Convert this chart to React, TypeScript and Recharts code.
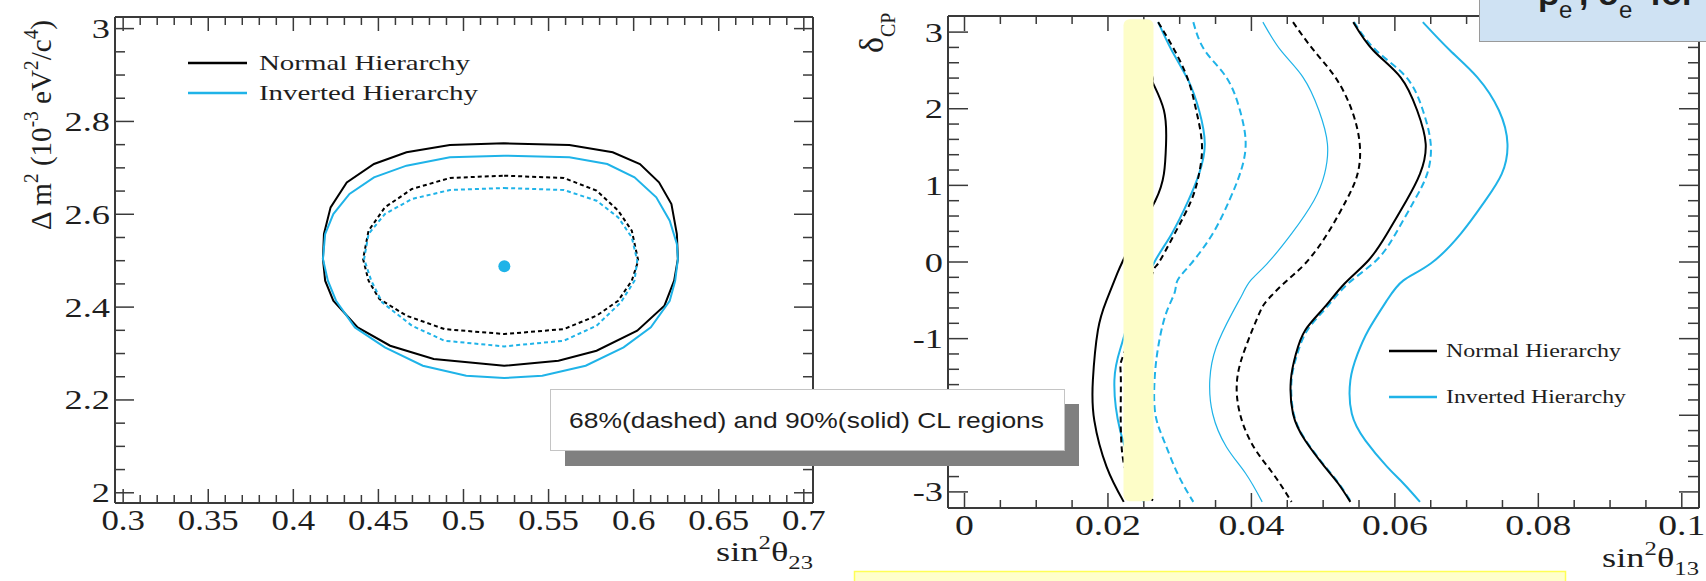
import React from 'react';
import { ComposedChart, Line, Scatter, XAxis, YAxis } from 'recharts';

const BLUE = '#1fb3e8';
const INK = '#1e1e1e';
const FRAME = '#3a3a3a';
const SERIF = '"Liberation Serif", "Times New Roman", serif';
const SANS = '"Liberation Sans", Arial, sans-serif';

// left panel: sin^2(theta23) vs dm^2, closed contours [x, y]
const nh90_23 = [
  [0.5239, 2.7529], [0.5622, 2.7493], [0.5877, 2.7335], [0.6037, 2.7083], [0.6149, 2.6688],
  [0.6222, 2.6221], [0.6254, 2.5575], [0.626, 2.5036], [0.6238, 2.4569], [0.6181, 2.403],
  [0.6021, 2.3491], [0.5782, 2.306], [0.5558, 2.2845], [0.5239, 2.2737], [0.4825, 2.2881],
  [0.4569, 2.3168], [0.4378, 2.3563], [0.4235, 2.4138], [0.4187, 2.4569], [0.4174, 2.5036],
  [0.418, 2.5575], [0.4219, 2.6149], [0.4314, 2.6688], [0.4474, 2.7083], [0.4665, 2.7335],
  [0.492, 2.7493], [0.5239, 2.7529],
];
const ih90_23 = [
  [0.5239, 2.7263], [0.5622, 2.7227], [0.5845, 2.7083], [0.6005, 2.6796], [0.6133, 2.6365],
  [0.6212, 2.5862], [0.6254, 2.5359], [0.626, 2.5036], [0.6244, 2.4569], [0.6212, 2.4138],
  [0.6101, 2.3563], [0.5941, 2.3132], [0.5718, 2.2737], [0.5463, 2.2522], [0.5239, 2.2471],
  [0.5016, 2.2522], [0.4761, 2.2737], [0.4538, 2.3132], [0.4362, 2.3563], [0.4251, 2.4138],
  [0.4203, 2.4569], [0.4174, 2.5036], [0.4187, 2.5575], [0.4235, 2.6006], [0.433, 2.6437],
  [0.4474, 2.6796], [0.4665, 2.7047], [0.492, 2.7227], [0.5239, 2.7263],
];
const nh68_23 = [
  [0.5239, 2.6832], [0.559, 2.6782], [0.5782, 2.6509], [0.5909, 2.6078], [0.5989, 2.5647],
  [0.6027, 2.5], [0.5989, 2.4569], [0.5909, 2.4138], [0.5782, 2.3815], [0.559, 2.3527],
  [0.5239, 2.342], [0.4888, 2.3527], [0.4665, 2.3815], [0.4506, 2.4174], [0.4442, 2.4569],
  [0.441, 2.5036], [0.4442, 2.5647], [0.4538, 2.6149], [0.4697, 2.6545], [0.492, 2.6782],
  [0.5239, 2.6832],
];
const ih68_23 = [
  [0.5239, 2.6566], [0.559, 2.6523], [0.5782, 2.6293], [0.5909, 2.5934], [0.5989, 2.5503],
  [0.6021, 2.5], [0.6005, 2.4569], [0.5925, 2.4102], [0.5782, 2.3599], [0.559, 2.3276],
  [0.5239, 2.3154], [0.4888, 2.3276], [0.4697, 2.3599], [0.4522, 2.4102], [0.4458, 2.4569],
  [0.4416, 2.5036], [0.4442, 2.5575], [0.4538, 2.6006], [0.4697, 2.6329], [0.492, 2.6523],
  [0.5239, 2.6566],
];
const bestFit23 = [[0.524, 2.488]];

// right panel: sin^2(theta13) vs delta_CP, open curves [x, delta]
const nh90Left13 = [
  [0.024, 3.13], [0.025, 2.76], [0.0262, 2.41], [0.0263, 2.33], [0.0278, 1.98], [0.0281, 1.54],
  [0.0278, 1.15], [0.0266, 0.8], [0.024, 0.37], [0.0221, 0.02], [0.0213, -0.15], [0.0198, -0.5],
  [0.0186, -0.89], [0.0179, -1.54], [0.0181, -2.07], [0.0198, -2.67], [0.0222, -3.13],
];
const ih90Left13 = [
  [0.027, 3.13], [0.0289, 2.76], [0.0312, 2.37], [0.0327, 1.98], [0.0335, 1.54], [0.0327, 1.15],
  [0.0312, 0.8], [0.0289, 0.37], [0.0266, 0.02], [0.0245, -0.4], [0.0228, -0.8], [0.0218, -1.11],
  [0.0209, -1.54], [0.0217, -2.2], [0.0235, -2.7], [0.025, -3.13],
];
const nh68Left13 = [
  [0.027, 3.13], [0.0293, 2.76], [0.0312, 2.37], [0.0323, 1.98], [0.0331, 1.54], [0.0327, 1.15],
  [0.0316, 0.8], [0.0293, 0.37], [0.027, -0.02], [0.0262, -0.15], [0.0238, -0.8], [0.0219, -1.28],
  [0.0218, -1.54], [0.0219, -2.41], [0.0235, -2.9], [0.0266, -3.13],
];
const ih68Left13 = [
  [0.0319, 3.13], [0.0335, 2.76], [0.0365, 2.41], [0.0384, 1.98], [0.0392, 1.54], [0.0384, 1.15],
  [0.0369, 0.8], [0.0346, 0.37], [0.0316, -0.02], [0.0297, -0.24], [0.0293, -0.4], [0.0281, -0.67],
  [0.027, -1.11], [0.0265, -1.54], [0.0266, -1.98], [0.0278, -2.33], [0.0297, -2.76], [0.0319, -3.13],
];
const ihFit13 = [
  [0.0416, 3.13], [0.0441, 2.76], [0.0472, 2.41], [0.0494, 1.98], [0.0506, 1.54], [0.0502, 1.15],
  [0.0487, 0.8], [0.0456, 0.37], [0.0422, -0.02], [0.0399, -0.24], [0.0388, -0.41], [0.0373, -0.67],
  [0.0351, -1.11], [0.0342, -1.54], [0.0346, -1.98], [0.0365, -2.41], [0.0392, -2.76], [0.0415, -3.13],
];
const nh68Right13 = [
  [0.0458, 3.13], [0.0487, 2.76], [0.0517, 2.41], [0.054, 1.98], [0.0551, 1.54], [0.0548, 1.15],
  [0.0532, 0.8], [0.0506, 0.37], [0.0475, -0.02], [0.0445, -0.28], [0.0422, -0.5], [0.0411, -0.67],
  [0.0392, -1.11], [0.038, -1.54], [0.0384, -1.98], [0.0403, -2.41], [0.043, -2.76], [0.0456, -3.13],
];
const nh90Right13 = [
  [0.0542, 3.13], [0.057, 2.76], [0.0608, 2.41], [0.0631, 1.98], [0.0643, 1.54], [0.0635, 1.15],
  [0.0616, 0.8], [0.0589, 0.37], [0.0563, 0.02], [0.053, -0.28], [0.0502, -0.59], [0.0475, -0.89],
  [0.0462, -1.2], [0.0455, -1.54], [0.0458, -1.98], [0.0475, -2.33], [0.0502, -2.67], [0.0521, -2.89],
  [0.0538, -3.13],
];
const ih68Right13 = [
  [0.0543, 3.13], [0.0574, 2.76], [0.0616, 2.41], [0.0639, 1.98], [0.065, 1.54], [0.0645, 1.15],
  [0.0627, 0.8], [0.0601, 0.37], [0.0574, 0.02], [0.0535, -0.28], [0.0505, -0.59], [0.0478, -0.89],
  [0.0464, -1.2], [0.0456, -1.54], [0.0459, -1.98], [0.0476, -2.33], [0.0503, -2.67], [0.0522, -2.89],
  [0.0539, -3.13],
];
const ih90Right13 = [
  [0.0639, 3.13], [0.0677, 2.76], [0.0715, 2.41], [0.0745, 1.98], [0.0757, 1.54], [0.0749, 1.15],
  [0.0726, 0.8], [0.0692, 0.37], [0.065, -0.02], [0.0612, -0.24], [0.0589, -0.5], [0.0563, -0.89],
  [0.0548, -1.2], [0.0538, -1.54], [0.054, -1.98], [0.0559, -2.33], [0.0589, -2.67], [0.0612, -2.89],
  [0.0635, -3.13],
];

// tick labels
const x23Labels = [0.3, 0.35, 0.4, 0.45, 0.5, 0.55, 0.6, 0.65, 0.7];
const dm2Labels = [2, 2.2, 2.4, 2.6, 2.8, 3];
const x13Labels = [0, 0.02, 0.04, 0.06, 0.08, 0.1];
const dcpLabels = [-3, -2, -1, 0, 1, 2, 3];

const steps = (from: number, to: number, step: number) => {
  const n = Math.round((to - from) / step);
  return Array.from({ length: n + 1 }, (_, i) => +(from + i * step).toFixed(4));
};
const x23Ticks = steps(0.3, 0.7, 0.01);
const dm2Ticks = steps(2, 3, 0.05);
const x13Ticks = steps(0, 0.1, 0.005);
const dcpTicks = steps(-3, 3, 0.2);

const pts = (a: number[][]) => a.map(([x, y]) => ({ x, y }));

type TickOpts = {
  side: 'bottom' | 'top' | 'left' | 'right';
  majors: number[];
  major: number;
  minor: number;
  labels?: boolean;
  fontSize?: number;
  offset?: number;
  sx?: number;
};

const makeTick = (o: TickOpts) => (props: any) => {
  const { x, y, payload } = props;
  const v = payload.value;
  const isMajor = o.majors.some((m) => Math.abs(m - v) < 1e-9);
  const len = isMajor ? o.major : o.minor;
  let x2 = x;
  let y2 = y;
  if (o.side === 'bottom') y2 = y - len;
  if (o.side === 'top') y2 = y + len;
  if (o.side === 'left') x2 = x + len;
  if (o.side === 'right') x2 = x - len;
  const fs = o.fontSize || 28;
  let label = null;
  if (o.labels && isMajor) {
    const tx = o.side === 'left' ? x - (o.offset || 4) : x;
    const ty = o.side === 'left' ? y + fs * 0.34 : y + (o.offset || 27);
    label = (
      <text
        transform={`translate(${tx},${ty}) scale(${o.sx || 1.3},1)`}
        textAnchor={o.side === 'left' ? 'end' : 'middle'}
        fontFamily={SERIF}
        fontSize={fs}
        fill={INK}
      >
        {String(v)}
      </text>
    );
  }
  return (
    <g>
      <line x1={x} y1={y} x2={x2} y2={y2} stroke={FRAME} strokeWidth={1.5} />
      {label}
    </g>
  );
};

const frameLine = { stroke: FRAME, strokeWidth: 2 };
const axisCommon = {
  type: 'number' as const,
  allowDataOverflow: true,
  interval: 0 as const,
  tickSize: 0,
  tickMargin: 0,
  tickLine: false,
  axisLine: frameLine,
};

function LeftPanel() {
  const dom: [number, number] = [0.2952, 0.7054];
  const ydom: [number, number] = [1.978, 3.025];
  const ax = { xAxisId: 'b', yAxisId: 'l' };
  return (
    <ComposedChart width={850} height={581} margin={{ top: 7, right: 27, bottom: 38, left: 55 }}>
      <XAxis {...axisCommon} xAxisId="b" dataKey="x" domain={dom} ticks={x23Ticks} height={40}
        tick={makeTick({ side: 'bottom', majors: x23Labels, major: 14, minor: 8, labels: true, sx: 1.2, fontSize: 29 })} />
      <XAxis {...axisCommon} xAxisId="t" orientation="top" dataKey="x" domain={dom} ticks={x23Ticks} height={10}
        tick={makeTick({ side: 'top', majors: x23Labels, major: 14, minor: 8 })} />
      <YAxis {...axisCommon} yAxisId="l" dataKey="y" domain={ydom} ticks={dm2Ticks} width={60}
        tick={makeTick({ side: 'left', majors: dm2Labels, major: 19, minor: 10, labels: true, offset: 5 })} />
      <YAxis {...axisCommon} yAxisId="r" orientation="right" dataKey="y" domain={ydom} ticks={dm2Ticks} width={10}
        tick={makeTick({ side: 'right', majors: dm2Labels, major: 19, minor: 10 })} />
      <Line {...ax} data={pts(nh90_23)} dataKey="y" type="linear" stroke="#000" strokeWidth={2} dot={false} isAnimationActive={false} />
      <Line {...ax} data={pts(ih90_23)} dataKey="y" type="linear" stroke={BLUE} strokeWidth={2} dot={false} isAnimationActive={false} />
      <Line {...ax} data={pts(nh68_23)} dataKey="y" type="linear" stroke="#000" strokeWidth={2} strokeDasharray="4 3" dot={false} isAnimationActive={false} />
      <Line {...ax} data={pts(ih68_23)} dataKey="y" type="linear" stroke={BLUE} strokeWidth={2} strokeDasharray="4 3" dot={false} isAnimationActive={false} />
      <Scatter {...ax} data={pts(bestFit23)} dataKey="y" isAnimationActive={false}
        shape={(p: any) => <ellipse cx={p.cx} cy={p.cy} rx={6} ry={6} fill={BLUE} />} />
    </ComposedChart>
  );
}

function RightPanel() {
  const dom: [number, number] = [-0.0023, 0.1024];
  const ydom: [number, number] = [-3.21, 3.21];
  const ax = { xAxisId: 'b', yAxisId: 'l' };
  const curve = (d: number[][], stroke: string, dash?: string, w = 2) => (
    <Line {...ax} data={pts(d)} dataKey="y" type="natural" stroke={stroke} strokeWidth={w}
      strokeDasharray={dash} dot={false} isAnimationActive={false} />
  );
  return (
    <ComposedChart width={856} height={581} margin={{ top: 6, right: 3, bottom: 33, left: 38 }}>
      <XAxis {...axisCommon} xAxisId="b" dataKey="x" domain={dom} ticks={x13Ticks} height={40}
        tick={makeTick({ side: 'bottom', majors: x13Labels, major: 15, minor: 8, labels: true, sx: 1.3, fontSize: 29 })} />
      <XAxis {...axisCommon} xAxisId="t" orientation="top" dataKey="x" domain={dom} ticks={x13Ticks} height={10}
        tick={makeTick({ side: 'top', majors: x13Labels, major: 15, minor: 8 })} />
      <YAxis {...axisCommon} yAxisId="l" dataKey="y" domain={ydom} ticks={dcpTicks} width={60}
        tick={makeTick({ side: 'left', majors: dcpLabels, major: 20, minor: 11, labels: true, offset: 5, fontSize: 28 })} />
      <YAxis {...axisCommon} yAxisId="r" orientation="right" dataKey="y" domain={ydom} ticks={dcpTicks} width={4}
        tick={makeTick({ side: 'right', majors: dcpLabels, major: 20, minor: 11 })} />
      {curve(nh90Left13, '#000')}
      {curve(ih90Left13, BLUE)}
      {curve(nh68Left13, '#000', '6 4')}
      {curve(ih68Left13, BLUE, '7 4')}
      {curve(ihFit13, BLUE, undefined, 1.2)}
      {curve(nh68Right13, '#000', '6 4')}
      {curve(ih68Right13, BLUE, '7 4')}
      {curve(nh90Right13, '#000')}
      {curve(ih90Right13, BLUE)}
    </ComposedChart>
  );
}

function Overlay() {
  return (
    <svg width={1706} height={581} style={{ position: 'absolute', left: 0, top: 0, pointerEvents: 'none' }}>
      {/* highlighted theta13 band */}
      <rect x={1123.5} y={19.3} width={30} height={482} rx={6} fill="#fdfdc8" />

      {/* left legend */}
      <line x1={188} y1={63} x2={247} y2={63} stroke="#000" strokeWidth={2.5} />
      <text x={259} y={70} fontFamily={SERIF} fontSize={22} fill={INK} textLength={211} lengthAdjust="spacingAndGlyphs">Normal Hierarchy</text>
      <line x1={188} y1={93} x2={247} y2={93} stroke={BLUE} strokeWidth={2.5} />
      <text x={259} y={100} fontFamily={SERIF} fontSize={22} fill={INK} textLength={219} lengthAdjust="spacingAndGlyphs">Inverted Hierarchy</text>

      {/* right legend */}
      <line x1={1389} y1={351} x2={1437} y2={351} stroke="#000" strokeWidth={2.5} />
      <text x={1446} y={357} fontFamily={SERIF} fontSize={19} fill={INK} textLength={175} lengthAdjust="spacingAndGlyphs">Normal Hierarchy</text>
      <line x1={1389} y1={397} x2={1437} y2={397} stroke={BLUE} strokeWidth={2.5} />
      <text x={1446} y={403} fontFamily={SERIF} fontSize={19} fill={INK} textLength={180} lengthAdjust="spacingAndGlyphs">Inverted Hierarchy</text>

      {/* axis titles */}
      <text transform="translate(813,561) scale(1.3,1)" textAnchor="end" fontFamily={SERIF} fontSize={28} fill={INK}>
        sin<tspan fontSize={19} dy={-12}>2</tspan><tspan dy={12}>θ</tspan><tspan fontSize={19} dy={8}>23</tspan>
      </text>
      <text transform="translate(1699,567) scale(1.3,1)" textAnchor="end" fontFamily={SERIF} fontSize={28} fill={INK}>
        sin<tspan fontSize={19} dy={-12}>2</tspan><tspan dy={12}>θ</tspan><tspan fontSize={19} dy={8}>13</tspan>
      </text>
      <text transform="translate(51,230) rotate(-90)" fontFamily={SERIF} fontSize={30} fill={INK} textLength={210} lengthAdjust="spacingAndGlyphs">
        Δ m<tspan fontSize={20} dy={-13}>2</tspan><tspan dy={13}> (10</tspan><tspan fontSize={20} dy={-13}>-3</tspan><tspan dy={13}> eV</tspan><tspan fontSize={20} dy={-13}>2</tspan><tspan dy={13}>/c</tspan><tspan fontSize={20} dy={-13}>4</tspan><tspan dy={13}>)</tspan>
      </text>
      <text transform="translate(883,53) rotate(-90)" fontFamily={SERIF} fontSize={34} fill={INK}>
        δ<tspan fontSize={20} dy={12}>CP</tspan>
      </text>

      {/* CL note box */}
      <rect x={565} y={404} width={514} height={62} fill="#808080" />
      <rect x={550.5} y={389.5} width={514} height={61} fill="#ffffff" stroke="#c4c4c4" strokeWidth={1} />
      <text x={569} y={428} fontFamily={SANS} fontSize={22} fill={INK} textLength={475} lengthAdjust="spacingAndGlyphs">
        68%(dashed) and 90%(solid) CL regions
      </text>

      {/* top-right note box (cropped) */}
      <rect x={1479.5} y={-5} width={240} height={46.5} fill="#cfe2f3" stroke="#9a9a9a" strokeWidth={1} />
      <text x={1494} y={4} fontFamily={SANS} fontSize={34} fontWeight="bold" fill={INK}>•</text>
      <text x={1538} y={5} fontFamily={SANS} fontSize={34} fontWeight="bold" fill={INK}>β</text>
      <text x={1559} y={18} fontFamily={SANS} fontSize={24} fill={INK}>e</text>
      <text x={1579} y={5} fontFamily={SANS} fontSize={34} fontWeight="bold" fill={INK}>,</text>
      <text x={1598} y={5} fontFamily={SANS} fontSize={34} fontWeight="bold" fill={INK}>δ</text>
      <text x={1619} y={18} fontFamily={SANS} fontSize={24} fill={INK}>e</text>
      <text x={1650} y={5} fontFamily={SANS} fontSize={34} fontWeight="bold" fill={INK}>for</text>

      {/* bottom yellow note box (cropped) */}
      <rect x={854.5} y={571.5} width={711} height={20} fill="#ffffcc" stroke="#ffff55" strokeWidth={1.5} />
    </svg>
  );
}

export default function App() {
  return (
    <div style={{ position: 'absolute', left: 0, top: 0, width: 1706, height: 581, background: '#fff', overflow: 'hidden' }}>
      <div style={{ position: 'absolute', left: 0, top: 0 }}>
        <LeftPanel />
      </div>
      <div style={{ position: 'absolute', left: 850, top: 0 }}>
        <RightPanel />
      </div>
      <Overlay />
    </div>
  );
}
